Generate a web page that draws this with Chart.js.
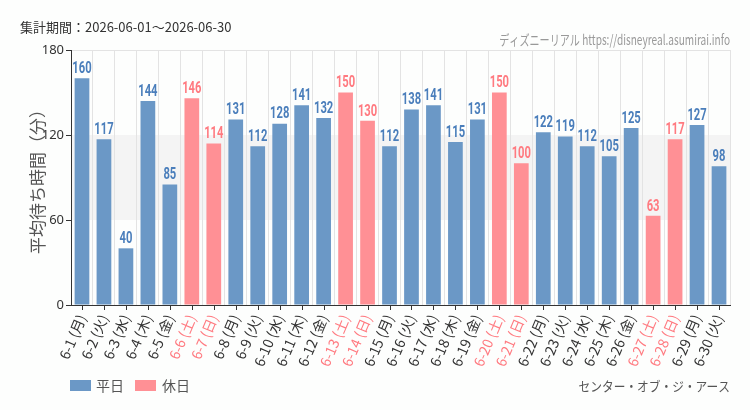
<!DOCTYPE html>
<html lang="ja">
<head>
  <meta charset="UTF-8" />
  <title>センター・オブ・ジ・アース 平均待ち時間</title>
  <script src="https://cdn.jsdelivr.net/npm/chart.js"></script>
  <style>
    html, body { margin: 0; padding: 0; background: #fdfefd; }
    #wrap { width: 750px; height: 410px; position: relative; }
  </style>
</head>
<body>
  <div id="wrap"><canvas id="waitChart" width="750" height="410"></canvas></div>

  <script>
    const days = [
      '6-1 (月)', '6-2 (火)', '6-3 (水)', '6-4 (木)', '6-5 (金)', '6-6 (土)', '6-7 (日)',
      '6-8 (月)', '6-9 (火)', '6-10 (水)', '6-11 (木)', '6-12 (金)', '6-13 (土)', '6-14 (日)',
      '6-15 (月)', '6-16 (火)', '6-17 (水)', '6-18 (木)', '6-19 (金)', '6-20 (土)', '6-21 (日)',
      '6-22 (月)', '6-23 (火)', '6-24 (水)', '6-25 (木)', '6-26 (金)', '6-27 (土)', '6-28 (日)',
      '6-29 (月)', '6-30 (火)'
    ];
    const waitMinutes = [
      160, 117, 40, 144, 85, 146, 114,
      131, 112, 128, 141, 132, 150, 130,
      112, 138, 141, 115, 131, 150, 100,
      122, 119, 112, 105, 125, 63, 117,
      127, 98
    ];
    const holidays = ['6-6 (土)', '6-7 (日)', '6-13 (土)', '6-14 (日)', '6-20 (土)', '6-21 (日)', '6-27 (土)', '6-28 (日)'];
    const yTicks = [0, 60, 120, 180];
    const band = [60, 120];

    const BLUE = '#6b98c6', PINK = '#ff9095';
    const BLUE_TXT = '#4a7ebb', PINK_TXT = '#ff7a80';
    const isHoliday = i => holidays.includes(days[i]);

    // narrow text: no condensed font installed, so squeeze horizontally
    function narrowText(ctx, text, x, y, sx, align) {
      ctx.save();
      ctx.translate(x, y);
      ctx.scale(sx, 1);
      ctx.textAlign = align;
      ctx.fillText(text, 0, 0);
      ctx.restore();
    }

    const decor = {
      id: 'decor',
      beforeDraw(chart) {
        const { ctx, chartArea: a, scales: { y } } = chart;
        ctx.save();
        ctx.fillStyle = '#f4f4f4';
        ctx.fillRect(a.left, y.getPixelForValue(band[1]), a.right - a.left,
          y.getPixelForValue(band[0]) - y.getPixelForValue(band[1]));
        ctx.restore();
      },
      afterDatasetsDraw(chart) {
        const { ctx, chartArea: a, scales: { x } } = chart;
        ctx.save();
        // x tick marks sit at the category centres
        ctx.strokeStyle = '#333';
        ctx.lineWidth = 1;
        days.forEach((d, i) => {
          const px = Math.round(x.getPixelForValue(i)) + 0.5;
          ctx.beginPath();
          ctx.moveTo(px, a.bottom);
          ctx.lineTo(px, a.bottom + 5);
          ctx.stroke();
        });
        // value labels
        ctx.font = 'bold 17px Roboto, sans-serif';
        ctx.textBaseline = 'bottom';
        chart.getDatasetMeta(0).data.forEach((bar, i) => {
          ctx.fillStyle = isHoliday(i) ? PINK_TXT : BLUE_TXT;
          narrowText(ctx, String(waitMinutes[i]), bar.x, bar.y - 1, 0.66, 'center');
        });
        // y title
        ctx.fillStyle = '#555';
        ctx.font = '17px "Noto Sans CJK JP", sans-serif';
        ctx.translate(38, (a.top + a.bottom) / 2);
        ctx.rotate(-Math.PI / 2);
        ctx.textAlign = 'center';
        ctx.textBaseline = 'middle';
        ctx.fillText('平均待ち時間（分）', 0, 0);
        ctx.restore();

        ctx.save();
        ctx.textBaseline = 'middle';
        ctx.fillStyle = '#333';
        ctx.font = '13px "Noto Sans CJK JP", sans-serif';
        ctx.fillText('集計期間：2026-06-01〜2026-06-30', 20, 27);
        ctx.fillStyle = '#999';
        ctx.font = '14px "Noto Sans CJK JP", sans-serif';
        narrowText(ctx, 'ディズニーリアル https://disneyreal.asumirai.info', 730, 40, 0.72, 'right');
        ctx.fillStyle = '#555';
        ctx.font = '13px "Noto Sans CJK JP", sans-serif';
        narrowText(ctx, 'センター・オブ・ジ・アース', 730, 386, 0.9, 'right');
        // legend
        ctx.textAlign = 'left';
        ctx.fillStyle = BLUE;
        ctx.fillRect(70, 380, 21, 11);
        ctx.fillStyle = PINK;
        ctx.fillRect(135, 380, 21, 11);
        ctx.fillStyle = '#555';
        ctx.font = '14px "Noto Sans CJK JP", sans-serif';
        ctx.fillText('平日', 96, 386);
        ctx.fillText('休日', 162, 386);
        ctx.restore();
      }
    };

    new Chart(document.getElementById('waitChart'), {
      type: 'bar',
      data: {
        labels: days,
        datasets: [{
          data: waitMinutes,
          backgroundColor: days.map((d, i) => isHoliday(i) ? PINK : BLUE),
          barPercentage: 0.67,
          categoryPercentage: 1
        }]
      },
      options: {
        responsive: false,
        animation: false,
        layout: { padding: { top: 50, right: 20, bottom: 0, left: 0 } },
        plugins: { legend: { display: false }, tooltip: { enabled: false } },
        scales: {
          x: {
            afterFit(scale) { scale.height = 105; },
            border: { color: '#333', width: 1 },
            grid: { color: '#e3e3e3', drawTicks: false, offset: true },
            ticks: {
              minRotation: 67, maxRotation: 67, padding: 7, autoSkip: false,
              color: ctx => isHoliday(ctx.index) ? PINK_TXT : '#333',
              font: { family: '"Noto Sans CJK JP", sans-serif', size: 14 }
            }
          },
          y: {
            min: 0, max: 180,
            afterFit(scale) { scale.width = 71; },
            afterBuildTicks(scale) { scale.ticks = yTicks.map(v => ({ value: v })); },
            border: { color: '#333', width: 1 },
            grid: {
              color: ctx => ctx.tick && ctx.tick.value === 180 ? '#e3e3e3' : 'rgba(0,0,0,0)',
              tickColor: '#333', tickLength: 5
            },
            ticks: {
              padding: 2, color: '#333',
              font: { family: '"Noto Sans", sans-serif', size: 13 }
            }
          }
        }
      },
      plugins: [decor]
    });
  </script>
</body>
</html>
